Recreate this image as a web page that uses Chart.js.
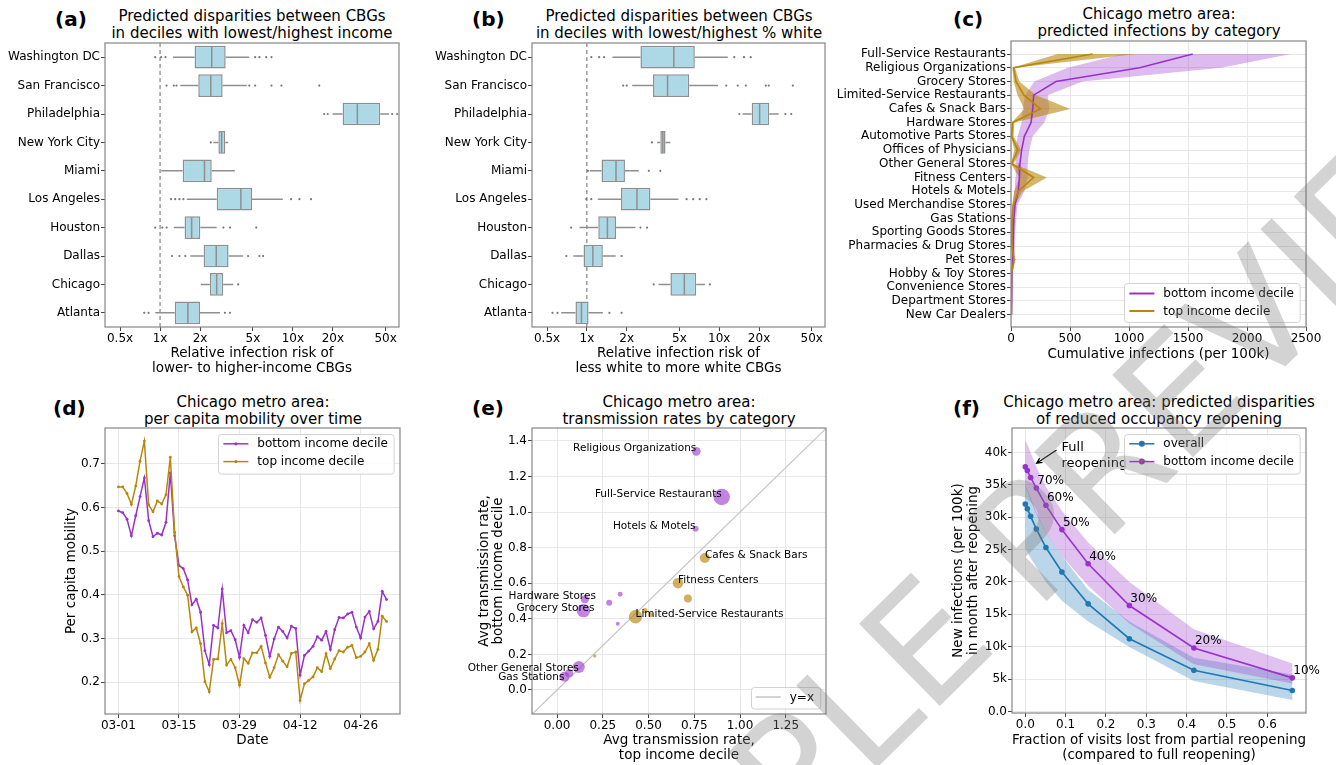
<!DOCTYPE html>
<html>
<head>
<meta charset="utf-8">
<script src="https://cdn.jsdelivr.net/npm/chart.js@4.4.0/dist/chart.umd.min.js"></script>
<style>
  html, body { margin: 0; padding: 0; background: #fff; }
  body { width: 1336px; height: 765px; position: relative; overflow: hidden; font-family: 'DejaVu Sans', sans-serif; color: #000; }
  canvas { position: absolute; }
  .ttl { position: absolute; font-size: 15px; line-height: 16.5px; text-align: center; white-space: nowrap; transform: translateX(-50%); }
  .tag { position: absolute; font-size: 20px; font-weight: bold; line-height: 20px; }
  #mark { position: absolute; left: 0; top: 0; pointer-events: none; }
</style>
</head>
<body>
<div class="tag" style="left:55px;top:9px">(a)</div>
<div class="ttl" style="left:252px;top:8px">Predicted disparities between CBGs<br>in deciles with lowest/highest income</div>
<div class="tag" style="left:472px;top:9px">(b)</div>
<div class="ttl" style="left:679px;top:8px">Predicted disparities between CBGs<br>in deciles with lowest/highest % white</div>
<div class="tag" style="left:953px;top:9px">(c)</div>
<div class="ttl" style="left:1159px;top:6px">Chicago metro area:<br>predicted infections by category</div>
<div class="tag" style="left:53px;top:398px">(d)</div>
<div class="ttl" style="left:253px;top:394px">Chicago metro area:<br>per capita mobility over time</div>
<div class="tag" style="left:472px;top:398px">(e)</div>
<div class="ttl" style="left:679px;top:394px">Chicago metro area:<br>transmission rates by category</div>
<div class="tag" style="left:953px;top:398px">(f)</div>
<div class="ttl" style="left:1159px;top:394px">Chicago metro area: predicted disparities<br>of reduced occupancy reopening</div>

<canvas id="ca"></canvas>
<canvas id="cb"></canvas>
<canvas id="cc"></canvas>
<canvas id="cd"></canvas>
<canvas id="ce"></canvas>
<canvas id="cf"></canvas>

<svg id="mark" width="1336" height="765">
  <text x="550" y="1089" transform="rotate(-44.5 550 1089)" font-family="DejaVu Sans" font-size="158" fill="#7a7a7a" fill-opacity="0.33">SAMPLE PREVIEW</text>
</svg>

<script>
// ---- (a) / (b) box plots ----
const cities = ['Washington DC', 'San Francisco', 'Philadelphia', 'New York City', 'Miami',
  'Los Angeles', 'Houston', 'Dallas', 'Chicago', 'Atlanta'];
const riskTicks = [0.5, 1, 2, 5, 10, 20, 50];

const incWhiskLo = [1.25, 1.42, 19.9, 2.52, 1.02, 1.59, 1.27, 1.69, 2.03, 0.92];
const incQ1 = [1.82, 1.94, 23.7, 2.75, 1.48, 2.67, 1.53, 2.13, 2.37, 1.29];
const incMed = [2.45, 2.41, 30.6, 2.91, 2.16, 4.06, 1.73, 2.65, 2.67, 1.62];
const incQ3 = [3.12, 2.96, 45.5, 3.10, 2.45, 4.93, 2.01, 3.28, 2.99, 2.0];
const incWhiskHi = [4.7, 4.5, 53, 3.26, 3.66, 8.4, 2.67, 4.23, 3.56, 2.83];
const incFliers = [[0.92, 1.02, 1.1, 5.2, 5.6, 6.3, 6.9], [1.12, 1.27, 1.33, 4.7, 5.2, 6.9, 8.2, 15.8],
  [17.2, 18.3, 56, 61], [2.41], [], [1.21, 1.3, 1.4, 1.5, 9.7, 11.2, 13.7],
  [0.92, 1.04, 1.12, 3.0, 3.36, 5.3], [1.23, 1.4, 1.55, 4.6, 5.6, 5.97], [3.87], [0.76, 0.82, 3.08, 3.36]];

const raceWhiskLo = [1.56, 2.2, 15.0, 3.39, 1.05, 1.21, 0.88, 0.79, 3.48, 0.64];
const raceQ1 = [2.54, 3.16, 17.6, 3.59, 1.29, 1.81, 1.22, 0.944, 4.28, 0.82];
const raceMed = [4.54, 4.07, 20.2, 3.75, 1.66, 2.39, 1.43, 1.11, 5.45, 0.91];
const raceQ3 = [6.54, 5.94, 23.9, 3.93, 1.94, 3.02, 1.66, 1.32, 6.7, 1.03];
const raceWhiskHi = [11.6, 9.8, 28.1, 4.28, 2.47, 4.92, 2.33, 1.65, 7.8, 1.32];
const raceFliers = [[1.08, 1.24, 1.35, 13, 15.4, 17.3], [1.88, 2.0, 11.3, 13.8, 15.9, 22.5, 23.7, 36],
  [14.2, 31.6, 35], [3.1], [1.02, 2.94, 3.59], [0.99, 1.08, 5.67, 6.36, 7.13, 8.0],
  [0.76, 2.54, 2.85], [0.70, 1.83], [3.2, 8.5], [0.55, 0.6, 1.48, 1.83]];

// ---- (c) infections by category ----
const categories = ['Full-Service Restaurants', 'Religious Organizations', 'Grocery Stores',
  'Limited-Service Restaurants', 'Cafes & Snack Bars', 'Hardware Stores', 'Automotive Parts Stores',
  'Offices of Physicians', 'Other General Stores', 'Fitness Centers', 'Hotels & Motels',
  'Used Merchandise Stores', 'Gas Stations', 'Sporting Goods Stores', 'Pharmacies & Drug Stores',
  'Pet Stores', 'Hobby & Toy Stores', 'Convenience Stores', 'Department Stores', 'New Car Dealers'];
const catInfBottom = [1540, 1090, 381, 192, 184, 170, 113, 90, 76, 71, 62, 34, 25, 18, 18, 15, 8, 6, 5, 3];
const catInfBottomLo = [950, 480, 198, 119, 99, 90, 56, 42, 37, 37, 28, 15, 10, 7, 7, 6, 3, 2, 2, 1];
const catInfBottomHi = [2373, 1780, 607, 311, 325, 282, 184, 155, 141, 141, 113, 55, 45, 35, 35, 30, 15, 14, 10, 5];
const catInfTop = [692, 23, 42, 110, 249, 14, 6, 56, 6, 192, 62, 20, 10, 8, 8, 25, 5, 4, 3, 2];
const catInfTopLo = [395, 11, 23, 56, 113, 6, 0, 28, 0, 71, 28, 10, 4, 3, 3, 12, 2, 1, 1, 0];
const catInfTopHi = [1059, 34, 71, 212, 503, 28, 23, 85, 23, 305, 99, 35, 18, 14, 14, 40, 9, 7, 6, 4];
const infTicks = [0, 500, 1000, 1500, 2000, 2500];

// ---- (d) mobility, one value per day from 03-01 ----
const dateTicks = ['03-01', '03-15', '03-29', '04-12', '04-26'];
const dateTickDays = [0, 14, 28, 42, 56];
const mobilityTicks = [0.2, 0.3, 0.4, 0.5, 0.6, 0.7];
const mobilityBottom = [0.592, 0.588, 0.573, 0.535, 0.581, 0.625, 0.668, 0.570, 0.533, 0.541,
  0.537, 0.566, 0.679, 0.535, 0.467, 0.460, 0.434, 0.377, 0.390, 0.360,
  0.272, 0.240, 0.330, 0.324, 0.413, 0.313, 0.318, 0.297, 0.257, 0.330,
  0.313, 0.343, 0.337, 0.347, 0.307, 0.259, 0.299, 0.326, 0.316, 0.301,
  0.328, 0.323, 0.216, 0.261, 0.271, 0.282, 0.304, 0.296, 0.316, 0.275,
  0.320, 0.348, 0.347, 0.356, 0.360, 0.326, 0.301, 0.349, 0.362, 0.322,
  0.339, 0.408, 0.389];
const mobilityTop = [0.647, 0.647, 0.632, 0.607, 0.649, 0.706, 0.752, 0.606, 0.590, 0.615,
  0.608, 0.629, 0.715, 0.543, 0.442, 0.418, 0.399, 0.315, 0.324, 0.288,
  0.201, 0.178, 0.252, 0.253, 0.334, 0.239, 0.252, 0.233, 0.193, 0.254,
  0.243, 0.267, 0.267, 0.282, 0.244, 0.211, 0.233, 0.263, 0.248, 0.235,
  0.266, 0.269, 0.158, 0.196, 0.204, 0.212, 0.233, 0.224, 0.265, 0.231,
  0.253, 0.272, 0.269, 0.280, 0.284, 0.256, 0.259, 0.269, 0.288, 0.250,
  0.275, 0.351, 0.339];

// ---- (e) transmission rates ----
const placeNames = ['Religious Organizations', 'Full-Service Restaurants', 'Hotels & Motels',
  'Cafes & Snack Bars', 'Fitness Centers', null, 'Limited-Service Restaurants', null, null,
  'Hardware Stores', 'Grocery Stores', null, null, null, null, 'Other General Stores', 'Gas Stations', null];
const rateTop = [0.761, 0.90, 0.757, 0.808, 0.661, 0.715, 0.429, 0.48, 0.511,
  0.152, 0.144, 0.285, 0.345, 0.332, 0.206, 0.119, 0.040, 0.066];
const rateBottom = [1.342, 1.085, 0.907, 0.742, 0.601, 0.515, 0.412, 0.446, 0.423,
  0.51, 0.446, 0.491, 0.538, 0.373, 0.191, 0.129, 0.075, 0.094];
const visitWeight = [4.8, 17, 2.3, 6.2, 7, 4, 11.2, 1.8, 1.5, 4, 11.2, 2.3, 1.5, 1, 0.7, 9, 6.2, 4];
const rateTicksX = [0, 0.25, 0.5, 0.75, 1.0, 1.25];
const rateTicksY = [0, 0.2, 0.4, 0.6, 0.8, 1.0, 1.2, 1.4];

// ---- (f) reduced occupancy reopening ----
const reopenCaps = ['100%', '90%', '80%', '70%', '60%', '50%', '40%', '30%', '20%', '10%'];
const visitsLost = [0, 0.005, 0.0132, 0.0272, 0.0511, 0.0907, 0.1558, 0.258, 0.418, 0.662];
const overallInf = [32050, 31330, 30150, 28200, 25330, 21540, 16620, 11230, 6360, 3230];
const overallLo = [25100, 24600, 23700, 22300, 20000, 17100, 13900, 9950, 4700, 1750];
const overallHi = [34900, 34300, 33000, 30800, 27700, 24000, 18800, 13900, 8300, 5700];
const bottomInf = [37800, 37230, 36150, 34510, 31850, 28100, 22820, 16360, 9800, 5180];
const bottomLo = [34700, 34000, 32600, 30500, 27600, 24000, 19400, 13600, 7300, 4300];
const bottomHi = [41900, 41200, 40000, 37800, 34700, 31000, 26100, 20000, 12700, 7400];
const lostTicks = [0, 0.1, 0.2, 0.3, 0.4, 0.5, 0.6];
const newInfTicks = [0, 5000, 10000, 15000, 20000, 25000, 30000, 35000, 40000];

const purple = '#9932CC', gold = '#B8860B', blue = '#1f77b4';
const boxFill = '#add8e6', boxEdge = '#8f8f8f';

Chart.defaults.font.family = "'DejaVu Sans', sans-serif";
Chart.defaults.font.size = 12;
Chart.defaults.color = '#000';
Chart.defaults.plugins.legend.display = false;
Chart.defaults.plugins.tooltip.enabled = false;

function axis(o) {
  return {
    type: o.type || 'linear',
    min: o.min, max: o.max, reverse: !!o.reverse, offset: !!o.offset,
    afterBuildTicks: o.ticks ? s => { s.ticks = o.ticks.map(v => ({ value: v })); } : undefined,
    ticks: { padding: 1, autoSkip: false, maxRotation: 0, minRotation: 0, font: { size: 12 }, color: '#000', callback: o.label },
    grid: { drawOnChartArea: o.grid !== false, color: '#e8e8e8', tickLength: 4, tickColor: '#444', offset: false },
    border: { display: false },
    title: o.title
      ? { display: true, text: o.title, color: '#000', font: { size: 13.5, lineHeight: o.lh || 1.12 }, padding: { top: o.titlePad || 0, bottom: 0 } }
      : { display: false }
  };
}

function panel(id, plot, pad, config) {
  const c = document.getElementById(id);
  const w = plot.r - plot.l + pad.l + pad.r, h = plot.b - plot.t + pad.t + pad.b;
  c.width = w; c.height = h;
  c.style.left = (plot.l - pad.l) + 'px';
  c.style.top = (plot.t - pad.t) + 'px';
  c.style.width = w + 'px'; c.style.height = h + 'px';
  const o = config.options;
  o.responsive = false;
  o.devicePixelRatio = 1;
  o.animation = false;
  o.layout = { padding: { left: 0, top: pad.t, right: pad.r, bottom: 0 } };
  o.scales.x.afterFit = s => { s.height = pad.b; };
  o.scales.y.afterFit = s => { s.width = pad.l; };
  return new Chart(c, config);
}

const frame = {
  id: 'frame',
  afterDatasetsDraw(chart) {
    const { ctx, chartArea: a } = chart;
    ctx.save();
    ctx.strokeStyle = '#858585';
    ctx.lineWidth = 1.2;
    ctx.strokeRect(a.left, a.top, a.right - a.left, a.bottom - a.top);
    ctx.restore();
  }
};

function makeLegend(cfg) {
  return {
    id: 'boxLegend',
    afterDatasetsDraw(chart) {
      const { ctx, chartArea: a } = chart;
      ctx.save();
      ctx.font = "12px 'DejaVu Sans'";
      const tw = Math.max(...cfg.items.map(it => ctx.measureText(it.text).width));
      const w = 5 + 25 + 9 + tw + 6, h = cfg.items.length * cfg.rowH + 4;
      const x = a.right - cfg.right - w;
      const y = cfg.top != null ? a.top + cfg.top : a.bottom - cfg.bottom - h;
      ctx.fillStyle = 'rgba(255,255,255,0.85)';
      ctx.strokeStyle = '#d2d2d2';
      ctx.lineWidth = 1;
      ctx.beginPath();
      ctx.roundRect(Math.round(x) + 0.5, Math.round(y) + 0.5, w, h, 3);
      ctx.fill(); ctx.stroke();
      cfg.items.forEach((it, i) => {
        const cy = y + cfg.first + i * cfg.rowH;
        ctx.strokeStyle = it.color; ctx.lineWidth = it.lw || 1.5;
        ctx.beginPath(); ctx.moveTo(x + 5, cy); ctx.lineTo(x + 30, cy); ctx.stroke();
        if (it.marker) {
          ctx.fillStyle = it.color;
          ctx.beginPath(); ctx.arc(x + 17.5, cy, it.marker, 0, Math.PI * 2); ctx.fill();
        }
        ctx.fillStyle = '#000'; ctx.textAlign = 'left'; ctx.textBaseline = 'middle';
        ctx.fillText(it.text, x + 39, cy + 0.5);
      });
      ctx.restore();
    }
  };
}

function boxParts(s) {
  return {
    id: 'boxParts',
    beforeDatasetsDraw(chart) {
      const { ctx, chartArea: a, scales: { x, y } } = chart;
      ctx.save();
      ctx.beginPath(); ctx.rect(a.left, a.top, a.right - a.left, a.bottom - a.top); ctx.clip();
      const x1 = x.getPixelForValue(1);
      ctx.strokeStyle = '#6a6a6a'; ctx.lineWidth = 1; ctx.setLineDash([4, 3]);
      ctx.beginPath(); ctx.moveTo(x1, a.top); ctx.lineTo(x1, a.bottom); ctx.stroke();
      ctx.setLineDash([]);
      ctx.strokeStyle = boxEdge; ctx.lineWidth = 1.5;
      s.q1.forEach((q, i) => {
        const py = y.getPixelForValue(i);
        ctx.beginPath();
        ctx.moveTo(x.getPixelForValue(s.lo[i]), py); ctx.lineTo(x.getPixelForValue(q), py);
        ctx.moveTo(x.getPixelForValue(s.q3[i]), py); ctx.lineTo(x.getPixelForValue(s.hi[i]), py);
        ctx.stroke();
        ctx.fillStyle = '#777';
        s.out[i].forEach(v => {
          ctx.beginPath(); ctx.arc(x.getPixelForValue(v), py, 1.1, 0, Math.PI * 2); ctx.fill();
        });
      });
      ctx.restore();
    },
    afterDatasetsDraw(chart) {
      const { ctx, scales: { x } } = chart;
      const meta = chart.getDatasetMeta(0);
      ctx.save();
      ctx.strokeStyle = boxEdge; ctx.lineWidth = 1.5;
      meta.data.forEach((bar, i) => {
        const { y, height } = bar.getProps(['y', 'height'], true);
        const px = x.getPixelForValue(s.med[i]);
        ctx.beginPath(); ctx.moveTo(px, y - height / 2 + 1); ctx.lineTo(px, y + height / 2 - 1); ctx.stroke();
      });
      ctx.restore();
    }
  };
}

function boxChart(id, plot, pad, s, title) {
  return panel(id, plot, pad, {
    type: 'bar',
    data: {
      labels: cities,
      datasets: [{
        data: s.q1.map((v, i) => [v, s.q3[i]]),
        backgroundColor: boxFill, borderColor: boxEdge, borderWidth: 1.5, borderSkipped: false,
        categoryPercentage: 0.8, barPercentage: 1
      }]
    },
    options: {
      indexAxis: 'y',
      scales: {
        x: axis({ type: 'logarithmic', min: 0.385, max: 63, ticks: riskTicks, label: v => v + 'x', grid: false, title }),
        y: axis({ type: 'category', offset: true, grid: false, label: v => cities[v] })
      }
    },
    plugins: [boxParts(s), frame]
  });
}

boxChart('ca', { l: 105, t: 43, r: 399, b: 327 }, { l: 105, t: 10, r: 20, b: 49 },
  { lo: incWhiskLo, q1: incQ1, med: incMed, q3: incQ3, hi: incWhiskHi, out: incFliers },
  ['Relative infection risk of', 'lower- to higher-income CBGs']);
boxChart('cb', { l: 532, t: 43, r: 825, b: 327 }, { l: 110, t: 10, r: 20, b: 49 },
  { lo: raceWhiskLo, q1: raceQ1, med: raceMed, q3: raceQ3, hi: raceWhiskHi, out: raceFliers },
  ['Relative infection risk of', 'less white to more white CBGs']);

// (c)
const vpts = vals => vals.map((v, i) => ({ x: v, y: i }));
function shape(pts, color, order) {
  return { data: pts, fill: 'shape', backgroundColor: color, borderColor: 'rgba(0,0,0,0)', borderWidth: 0, pointRadius: 0, order };
}
panel('cc', { l: 1011, t: 41, r: 1306, b: 327 }, { l: 190, t: 10, r: 28, b: 35 }, {
  type: 'line',
  data: {
    datasets: [
      shape(vpts(catInfBottomHi).concat(vpts(catInfBottomLo).reverse()), 'rgba(153,50,204,0.33)', 3),
      shape(vpts(catInfTopHi).concat(vpts(catInfTopLo).reverse()), 'rgba(184,134,11,0.6)', 2),
      { label: 'bottom income decile', data: vpts(catInfBottom), borderColor: purple, borderWidth: 1.6, pointRadius: 0, fill: false, order: 1 },
      { label: 'top income decile', data: vpts(catInfTop), borderColor: gold, borderWidth: 1.6, pointRadius: 0, fill: false, order: 0 }
    ]
  },
  options: {
    scales: {
      x: axis({ min: 0, max: 2500, ticks: infTicks, label: v => String(v), title: 'Cumulative infections (per 100k)' }),
      y: axis({ min: -0.95, max: 19.9, reverse: true, ticks: categories.map((_, i) => i), label: v => categories[v] })
    }
  },
  plugins: [frame, makeLegend({
    right: 6, bottom: 5, rowH: 17.5, first: 10.5,
    items: [{ text: 'bottom income decile', color: purple, lw: 2 }, { text: 'top income decile', color: gold, lw: 2 }]
  })]
});

// (d)
panel('cd', { l: 105, t: 428, r: 400, b: 714 }, { l: 105, t: 12, r: 20, b: 34 }, {
  type: 'line',
  data: {
    datasets: [
      { label: 'bottom income decile', data: mobilityBottom.map((v, i) => ({ x: i, y: v })), borderColor: purple,
        backgroundColor: purple, borderWidth: 1.5, pointRadius: 1.4, pointBorderWidth: 0, fill: false, order: 1 },
      { label: 'top income decile', data: mobilityTop.map((v, i) => ({ x: i, y: v })), borderColor: gold,
        backgroundColor: gold, borderWidth: 1.5, pointRadius: 1.4, pointBorderWidth: 0, fill: false, order: 0 }
    ]
  },
  options: {
    scales: {
      x: axis({ min: -3.1, max: 65.1, ticks: dateTickDays, label: v => dateTicks[dateTickDays.indexOf(v)], title: 'Date' }),
      y: axis({ min: 0.127, max: 0.782, ticks: mobilityTicks, label: v => v.toFixed(1), title: 'Per capita mobility', titlePad: 64.4 })
    }
  },
  plugins: [frame, makeLegend({
    right: 6, top: 6, rowH: 17.8, first: 9.8,
    items: [{ text: 'bottom income decile', color: purple, marker: 1.6 }, { text: 'top income decile', color: gold, marker: 1.6 }]
  })]
});

// (e)
const noteStyle = {
  'Hardware Stores': ['right', 11, 0], 'Grocery Stores': ['right', 11, 0],
  'Other General Stores': ['right', 0, 3.5], 'Gas Stations': ['right', 0, 3.5],
  'Cafes & Snack Bars': ['left', 0, 0], 'Fitness Centers': ['left', 0, 0], 'Limited-Service Restaurants': ['left', 0, 0]
};
const placeNotes = {
  id: 'placeNotes',
  afterDatasetsDraw(chart) {
    const { ctx, scales: { x, y } } = chart;
    ctx.save();
    ctx.font = "10.5px 'DejaVu Sans'"; ctx.fillStyle = '#000'; ctx.textBaseline = 'alphabetic';
    placeNames.forEach((name, i) => {
      if (!name) return;
      const [align, dx, dy] = noteStyle[name] || ['right', 0, 0];
      ctx.textAlign = align;
      ctx.fillText(name, x.getPixelForValue(rateTop[i]) + dx, y.getPixelForValue(rateBottom[i]) + dy);
    });
    ctx.restore();
  }
};
panel('ce', { l: 532, t: 428, r: 826, b: 714 }, { l: 100, t: 12, r: 20, b: 49 }, {
  type: 'scatter',
  data: {
    datasets: [
      { data: rateTop.map((v, i) => ({ x: v, y: rateBottom[i] })),
        pointRadius: visitWeight.map(w => 2 * Math.sqrt(w)),
        backgroundColor: rateTop.map((v, i) => rateBottom[i] > v ? 'rgba(153,50,204,0.6)' : 'rgba(184,134,11,0.65)'),
        pointBorderWidth: 0, order: 0 },
      { label: 'y=x', data: [{ x: -0.2, y: -0.2 }, { x: 1.6, y: 1.6 }], showLine: true,
        borderColor: '#c4c4c4', borderWidth: 1.2, pointRadius: 0, order: 1 }
    ]
  },
  options: {
    scales: {
      x: axis({ min: -0.137, max: 1.47, ticks: rateTicksX, label: v => v.toFixed(2), title: ['Avg transmission rate,', 'top income decile'], lh: 1.12 }),
      y: axis({ min: -0.135, max: 1.473, ticks: rateTicksY, label: v => v.toFixed(1), title: ['Avg transmission rate,', 'bottom income decile'], lh: 1.05, titlePad: 45.2 })
    }
  },
  plugins: [frame, placeNotes, makeLegend({
    right: 6, bottom: 6, rowH: 17.5, first: 10.5,
    items: [{ text: 'y=x', color: '#c4c4c4', lw: 1.5 }]
  })]
});

// (f)
const fullArrow = { head: [0.028, 38350], tail: [0.0775, 40400] };
const reopenNotes = {
  id: 'reopenNotes',
  afterDatasetsDraw(chart) {
    const { ctx, scales: { x, y } } = chart;
    ctx.save();
    ctx.font = "12px 'DejaVu Sans'"; ctx.fillStyle = '#000'; ctx.textAlign = 'left'; ctx.textBaseline = 'alphabetic';
    reopenCaps.forEach((cap, i) => {
      if (i < 3) return;
      ctx.fillText(cap, x.getPixelForValue(visitsLost[i]) + 1, y.getPixelForValue(bottomInf[i]) - 4);
    });
    const hx = x.getPixelForValue(fullArrow.head[0]), hy = y.getPixelForValue(fullArrow.head[1]);
    const tx = x.getPixelForValue(fullArrow.tail[0]), ty = y.getPixelForValue(fullArrow.tail[1]);
    const ang = Math.atan2(hy - ty, hx - tx);
    ctx.strokeStyle = '#000'; ctx.lineWidth = 1.2;
    ctx.beginPath(); ctx.moveTo(tx, ty); ctx.lineTo(hx, hy);
    ctx.moveTo(hx - 6 * Math.cos(ang - 0.45), hy - 6 * Math.sin(ang - 0.45)); ctx.lineTo(hx, hy);
    ctx.lineTo(hx - 6 * Math.cos(ang + 0.45), hy - 6 * Math.sin(ang + 0.45));
    ctx.stroke();
    ctx.font = "13px 'DejaVu Sans'"; ctx.textBaseline = 'middle';
    ctx.fillText('Full', tx + 5, ty - 2.5);
    ctx.fillText('reopening', tx + 5, ty + 14);
    ctx.restore();
  }
};
const hpts = vals => vals.map((v, i) => ({ x: visitsLost[i], y: v }));
panel('cf', { l: 1012, t: 428, r: 1306, b: 713 }, { l: 100, t: 12, r: 30, b: 50 }, {
  type: 'line',
  data: {
    datasets: [
      shape(hpts(overallHi).concat(hpts(overallLo).reverse()), 'rgba(31,119,180,0.3)', 4),
      shape(hpts(bottomHi).concat(hpts(bottomLo).reverse()), 'rgba(153,50,204,0.3)', 3),
      { label: 'overall', data: hpts(overallInf), borderColor: blue, backgroundColor: blue,
        borderWidth: 1.6, pointRadius: 2.8, pointBorderWidth: 0, fill: false, order: 2 },
      { label: 'bottom income decile', data: hpts(bottomInf), borderColor: purple, backgroundColor: purple,
        borderWidth: 1.6, pointRadius: 2.8, pointBorderWidth: 0, fill: false, order: 1 }
    ]
  },
  options: {
    scales: {
      x: axis({ min: -0.033, max: 0.696, ticks: lostTicks, label: v => v.toFixed(1),
        title: ['Fraction of visits lost from partial reopening', '(compared to full reopening)'], lh: 1.11 }),
      y: axis({ min: -250, max: 43800, ticks: newInfTicks, label: v => v === 0 ? '0.0' : (v / 1000) + 'k',
        title: ['New infections (per 100k)', 'in month after reopening'], lh: 1.1, titlePad: 38.9 })
    }
  },
  plugins: [frame, reopenNotes, makeLegend({
    right: 6, top: 6, rowH: 17.8, first: 9.8,
    items: [{ text: 'overall', color: blue, marker: 3 }, { text: 'bottom income decile', color: purple, marker: 3 }]
  })]
});
</script>
</body>
</html>
